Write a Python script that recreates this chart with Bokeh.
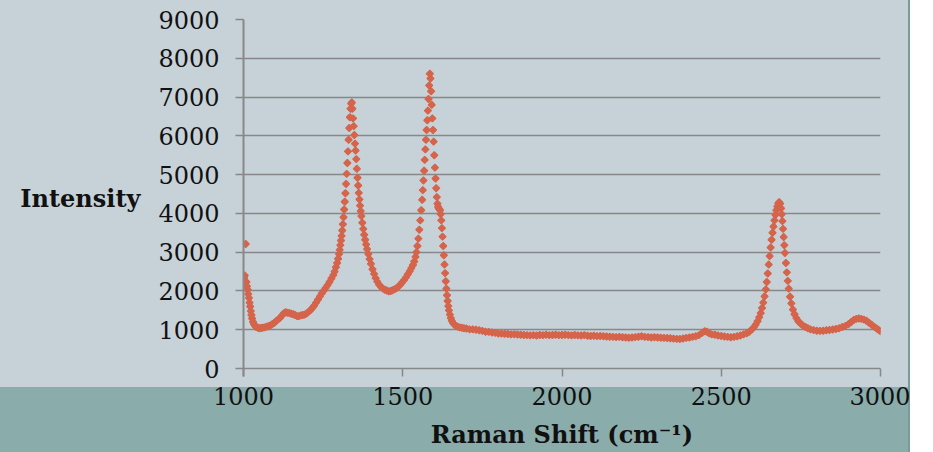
from bokeh.plotting import figure
from bokeh.models import Range1d, FixedTicker, ColumnDataSource
from bokeh.embed import file_html
from bokeh.resources import INLINE

# Raman spectrum: shift (cm^-1) and measured intensity (counts)
shift = [
    1000, 1002, 1004, 1007, 1009, 1011, 1013, 1015, 1017, 1019, 1021, 1023, 1025, 1027,
    1030, 1033, 1036, 1040, 1045, 1050, 1055, 1060, 1066, 1072, 1078, 1084, 1090, 1096,
    1102, 1108, 1114, 1120, 1126, 1132, 1138, 1144, 1150, 1156, 1162, 1168, 1174, 1180,
    1186, 1192, 1198, 1204, 1210, 1216, 1222, 1228, 1234, 1240, 1246, 1252, 1258, 1264,
    1270, 1276, 1282, 1286, 1290, 1294, 1297, 1300, 1302, 1304, 1306, 1308, 1310, 1312,
    1314, 1316, 1318, 1320, 1322, 1324, 1326, 1328, 1330, 1332, 1334, 1336, 1338, 1340,
    1342, 1344, 1346, 1348, 1350, 1352, 1354, 1356, 1358, 1360, 1362, 1364, 1366, 1368,
    1370, 1373, 1376, 1379, 1382, 1385, 1388, 1392, 1396, 1400, 1405, 1410, 1415, 1420,
    1426, 1432, 1438, 1444, 1450, 1456, 1462, 1468, 1474, 1480, 1486, 1492, 1498, 1504,
    1510, 1516, 1522, 1527, 1532, 1536, 1540, 1543, 1546, 1549, 1552, 1555, 1558, 1561,
    1563, 1565, 1567, 1569, 1571, 1573, 1575, 1577, 1579, 1581, 1583, 1585, 1587, 1589,
    1591, 1593, 1595, 1597, 1599, 1601, 1603, 1605, 1607, 1609, 1611, 1613, 1615, 1617,
    1619, 1621, 1623, 1625, 1627, 1629, 1631, 1633, 1635, 1637, 1639, 1641, 1643, 1645,
    1648, 1651, 1654, 1658, 1662, 1667, 1672, 1678, 1685, 1692, 1700, 1710, 1720, 1730,
    1740, 1750, 1760, 1770, 1780, 1790, 1800, 1810, 1820, 1830, 1840, 1850, 1860, 1870,
    1880, 1890, 1900, 1910, 1920, 1930, 1940, 1950, 1960, 1970, 1980, 1990, 2000, 2010,
    2020, 2030, 2040, 2050, 2060, 2070, 2080, 2090, 2100, 2110, 2120, 2130, 2140, 2150,
    2160, 2170, 2180, 2190, 2200, 2210, 2220, 2230, 2240, 2250, 2260, 2270, 2280, 2290,
    2300, 2310, 2320, 2330, 2340, 2350, 2360, 2370, 2380, 2390, 2400, 2410, 2420, 2430,
    2440, 2448, 2455, 2462, 2470, 2480, 2490, 2500, 2510, 2520, 2530, 2540, 2550, 2560,
    2570, 2580, 2588, 2595, 2602, 2608, 2614, 2619, 2624, 2628, 2632, 2636, 2640, 2643,
    2646, 2649, 2652, 2655, 2658, 2661, 2664, 2667, 2670, 2673, 2676, 2679, 2682, 2685,
    2688, 2690, 2692, 2694, 2696, 2698, 2700, 2703, 2706, 2709, 2712, 2716, 2720, 2725,
    2730, 2736, 2742, 2749, 2756, 2764, 2772, 2780, 2790, 2800, 2810, 2820, 2830, 2840,
    2850, 2860, 2870, 2880, 2890, 2900, 2908, 2916, 2924, 2932, 2940, 2948, 2956, 2964,
    2972, 2980, 2988, 2995, 3000,
]
intensity = [
    2260, 2340, 2400, 3210, 2230, 2120, 2030, 1920, 1820, 1700, 1600, 1480, 1380, 1290,
    1200, 1140, 1100, 1070, 1050, 1040, 1045, 1050, 1060, 1075, 1090, 1110, 1140, 1175,
    1220, 1260, 1300, 1360, 1420, 1450, 1440, 1430, 1410, 1400, 1380, 1350, 1350, 1370,
    1380, 1390, 1420, 1460, 1500, 1560, 1620, 1700, 1780, 1860, 1940, 2010, 2080, 2150,
    2230, 2320, 2410, 2500, 2610, 2720, 2830, 2950, 3060, 3180, 3300, 3420, 3560, 3720,
    3900, 4100, 4300, 4520, 4760, 5020, 5300, 5600, 5900, 6200, 6480, 6700, 6830, 6860,
    6700, 6450, 6250, 6020, 5800, 5620, 5400, 5150, 4920, 4720, 4530, 4360, 4200, 4060,
    3930, 3760, 3600, 3450, 3320, 3200, 3080, 2950, 2820, 2700, 2560, 2440, 2330, 2240,
    2160, 2100, 2060, 2030, 2010, 1990, 2000, 2020, 2040, 2070, 2110, 2160, 2220, 2280,
    2350, 2430, 2510, 2590, 2670, 2760, 2880, 3000, 3160, 3350, 3580, 3820, 4080, 4350,
    4600, 4850, 5100, 5380, 5650, 5900, 6150, 6400, 6650, 6950, 7300, 7600, 7480, 7150,
    6800, 6450, 6150, 5850, 5500, 5180, 4900, 4650, 4420, 4250, 4170, 4130, 4110, 4080,
    3980, 3820, 3620, 3400, 3160, 2920, 2680, 2460, 2250, 2060, 1890, 1740, 1610, 1500,
    1390, 1300, 1230, 1170, 1130, 1100, 1080, 1060, 1050, 1040, 1030, 1010, 1010, 1000,
    985, 970, 950, 945, 930, 920, 905, 900, 895, 890, 880, 885, 875, 870,
    865, 860, 855, 860, 850, 865, 860, 870, 860, 865, 870, 860, 865, 870,
    860, 855, 865, 855, 850, 860, 845, 840, 845, 835, 840, 830, 825, 820,
    815, 810, 815, 805, 800, 795, 800, 810, 820, 830, 815, 810, 800, 805,
    800, 795, 790, 785, 780, 770, 765, 760, 775, 790, 800, 815, 830, 860,
    920, 960, 950, 910, 880, 870, 850, 840, 825, 815, 805, 815, 830, 850,
    880, 910, 950, 1000, 1060, 1130, 1220, 1320, 1430, 1560, 1700, 1860, 2040, 2230,
    2450, 2680, 2900, 3120, 3320, 3500, 3660, 3820, 3960, 4080, 4180, 4260, 4290, 4250,
    4130, 3980, 3800, 3600, 3390, 3180, 2980, 2720, 2480, 2260, 2060, 1850, 1680, 1520,
    1400, 1300, 1220, 1160, 1110, 1070, 1040, 1010, 990, 975, 970, 975, 985, 995,
    1005, 1020, 1040, 1070, 1100, 1150, 1200, 1250, 1280, 1290, 1280, 1260, 1230, 1180,
    1130, 1080, 1030, 990, 960,
]

x_ticks = [1000, 1500, 2000, 2500, 3000]
y_ticks = [0, 1000, 2000, 3000, 4000, 5000, 6000, 7000, 8000, 9000]

PANEL = "#c6d2d8"
BAND = "#8aacab"
EDGE = "#7a9b9a"
GRID = "#888888"
MARK = "#d5644b"
INK = "#111111"
SERIF = "DejaVu Serif"

src = ColumnDataSource(data=dict(shift=shift, intensity=intensity))

p = figure(
    frame_width=637, frame_height=357,
    min_border_left=243, min_border_right=30,
    min_border_top=19, min_border_bottom=76,
    x_range=Range1d(1000, 3000), y_range=Range1d(-206, 9000),
    output_backend="svg", toolbar_location=None,
)
p.background_fill_color = None
p.border_fill_color = None
p.outline_line_color = None
p.styles = {
    "background": (
        f"linear-gradient(to right, rgba(0,0,0,0) 0px, rgba(0,0,0,0) 908px, {EDGE} 908px, {EDGE} 910px), "
        f"linear-gradient(to bottom, {PANEL} 0px, {PANEL} 387px, {BAND} 387px, {BAND} 100%)"
    ),
}

# horizontal grid; the zero line doubles as the x axis line
p.xgrid.visible = False
p.ygrid.ticker = FixedTicker(ticks=y_ticks)
p.ygrid.grid_line_color = GRID
p.ygrid.grid_line_width = 1.5

xa = p.xaxis[0]
xa.ticker = FixedTicker(ticks=x_ticks)
xa.axis_line_color = None
xa.major_tick_in = 8
xa.major_tick_out = 0
xa.major_tick_line_color = GRID
xa.major_tick_line_width = 1.5
xa.minor_tick_line_color = None
xa.major_label_standoff = 10
xa.major_label_text_font = SERIF
xa.major_label_text_font_size = "24px"
xa.major_label_text_color = INK
xa.axis_label = "Raman Shift (cm\u207b\u00b9)"
xa.axis_label_text_font = SERIF
xa.axis_label_text_font_size = "24px"
xa.axis_label_text_font_style = "bold"
xa.axis_label_text_color = INK
xa.axis_label_standoff = 12

ya = p.yaxis[0]
ya.ticker = FixedTicker(ticks=y_ticks)
ya.axis_line_color = GRID
ya.axis_line_width = 2
ya.major_tick_in = 0
ya.major_tick_out = 8
ya.major_tick_line_color = GRID
ya.major_tick_line_width = 1.5
ya.minor_tick_line_color = None
ya.major_label_standoff = 16
ya.major_label_text_font = SERIF
ya.major_label_text_font_size = "24px"
ya.major_label_text_color = INK
ya.axis_label = "Intensity"
ya.axis_label_orientation = "horizontal"
ya.axis_label_text_font = SERIF
ya.axis_label_text_font_size = "24px"
ya.axis_label_text_font_style = "bold"
ya.axis_label_text_color = INK
ya.axis_label_standoff = 15

# diamonds drawn as squares turned by 45 degrees
p.scatter(x="shift", y="intensity", source=src, marker="square", angle=0.7854,
          size=5, fill_color=MARK, line_color=MARK, line_width=1.2)

open("out.html", "w").write(file_html(p, INLINE))
